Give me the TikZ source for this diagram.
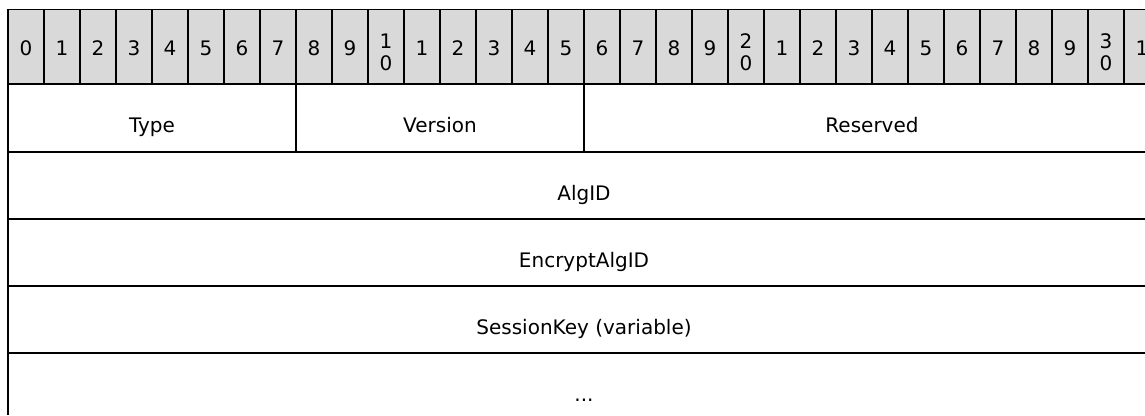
\documentclass[tikz,border=0pt]{standalone}
\usepackage{fontspec}
\setmainfont{DejaVu Sans}
\definecolor{hdrgray}{RGB}{217,217,217}
\begin{document}
\begin{tikzpicture}[x=1pt,y=-1pt,
  txt/.style={font=\fontsize{20}{23}\selectfont, anchor=base, inner sep=0pt},
  rule/.style={line width=2pt, black},
  thinrule/.style={line width=1pt, black}]
\useasboundingbox (0,0) rectangle (1145,415);
\clip (0,0) rectangle (1145,415);
% header band
\fill[hdrgray] (8,9) rectangle (1160,84);
\foreach \i in {0,...,32} \draw[rule] ({8+36*\i},9) -- ({8+36*\i},84);
\draw[thinrule] (7,9) -- (1160,9);
% header labels
\foreach \i in {0,...,31} {
  \pgfmathtruncatemacro\d{mod(\i,10)}
  \pgfmathtruncatemacro\t{\i/10}
  \ifnum\d=0
    \ifnum\i>0
      \node[txt] (h\i a) at ({26+36*\i},48) {\t};
      \node[txt] (h\i b) at ({26+36*\i},70) {0};
    \else
      \node[txt] (h\i) at (26,55) {0};
    \fi
  \else
    \node[txt] (h\i) at ({26+36*\i},55) {\d};
  \fi
}
% left border
\draw[rule] (8,9) -- (8,415);
% row separators
\draw[line width=2.5pt] (7,84) -- (1160,84);
\foreach \y in {152,219,286,353} \draw[rule] (7,\y) -- (1160,\y);
\draw[rule] (296,84) -- (296,152);
\draw[rule] (584,84) -- (584,152);
% field labels
\node[txt] (type) at (152,132) {Type};
\node[txt] (version) at (440,132) {Version};
\node[txt] (reserved) at (872,132) {Reserved};
\node[txt] (algid) at (584,200) {AlgID};
\node[txt] (encalg) at (584,267) {EncryptAlgID};
\node[txt] (sesskey) at (584,334) {SessionKey (variable)};
\node[txt] (more) at (584,401) {...};
\end{tikzpicture}
\end{document}
